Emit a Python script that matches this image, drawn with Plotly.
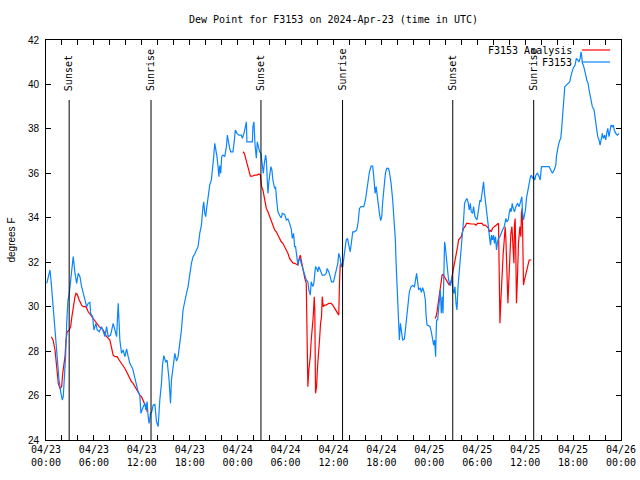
import plotly.graph_objects as go
import pandas as pd

START = pd.Timestamp("2024-04-23 00:00")
END = pd.Timestamp("2024-04-26 00:00")

# ---- F3153 observations (hours after 2024-04-23 00:00 UTC, degrees F) ----
blue_hours = [
    0.1, 0.5, 0.66, 0.88, 1.0, 1.41, 1.63, 1.84, 2.04, 2.16, 2.25, 2.34, 2.46, 2.59, 2.75, 2.88,
    3.09, 3.29, 3.41, 3.63, 3.84, 4.04, 4.25, 4.46, 4.66, 4.88, 5.09, 5.29, 5.5, 5.59, 5.84, 6.0,
    6.25, 6.41, 6.66, 6.96, 7.16, 7.38, 7.59, 7.79, 8.09, 8.41, 8.63, 8.84, 9.04, 9.13, 9.25, 9.46,
    9.66, 9.88, 10.09, 10.29, 10.5, 10.84, 11.0, 11.34, 11.54, 11.75, 11.88, 12.09, 12.38, 12.5,
    12.66, 12.79, 12.91, 13.09, 13.25, 13.41, 13.63, 13.84, 14.04, 14.25, 14.46, 14.59, 14.75, 15.0,
    15.16, 15.41, 15.59, 15.71, 15.91, 16.13, 16.34, 16.54, 16.75, 16.96, 17.16, 17.38, 17.59, 17.79,
    18.0, 18.21, 18.41, 18.63, 18.84, 19.04, 19.25, 19.46, 19.66, 19.75, 19.88, 20.0, 20.09, 20.29,
    20.5, 20.71, 20.84, 21.0, 21.13, 21.25, 21.41, 21.54, 21.66, 21.75, 21.88, 22.0, 22.16, 22.38,
    22.59, 22.71, 22.84, 23.0, 23.13, 23.41, 23.59, 23.71, 23.91, 24.16, 24.46, 24.59, 24.79, 24.96,
    25.09, 25.16, 25.5, 25.84, 25.91, 26.04, 26.16, 26.34, 26.46, 26.63, 26.75, 26.91, 27.09, 27.21,
    27.34, 27.5, 27.59, 27.66, 27.79, 27.91, 28.04, 28.16, 28.29, 28.41, 28.63, 28.75, 28.84, 29.04,
    29.25, 29.46, 29.59, 29.88, 30.09, 30.29, 30.5, 30.71, 30.84, 31.0, 31.13, 31.25, 31.41, 31.54,
    31.66, 31.84, 31.96, 32.16, 32.38, 32.59, 32.79, 32.91, 33.09, 33.21, 33.41, 33.54, 33.75, 33.91,
    34.04, 34.16, 34.34, 34.59, 34.88, 35.09, 35.21, 35.41, 35.59, 35.75, 36.0, 36.13, 36.25, 36.41,
    36.54, 36.66, 36.84, 36.96, 37.16, 37.29, 37.41, 37.59, 37.75, 37.91, 38.09, 38.25, 38.41, 38.63,
    38.91, 39.09, 39.25, 39.46, 39.79, 40.0, 40.16, 40.34, 40.5, 40.71, 40.91, 41.04, 41.21, 41.34,
    41.46, 41.63, 41.75, 41.91, 42.04, 42.16, 42.34, 42.5, 42.66, 42.88, 43.0, 43.21, 43.41, 43.63,
    43.75, 43.84, 43.96, 44.13, 44.25, 44.38, 44.54, 44.66, 44.88, 45.0, 45.16, 45.34, 45.5, 45.71,
    45.91, 46.13, 46.34, 46.41, 46.66, 46.84, 47.0, 47.16, 47.34, 47.5, 47.59, 47.71, 47.91, 48.09,
    48.25, 48.41, 48.54, 48.66, 48.79, 48.84, 48.91, 49.04, 49.25, 49.38, 49.5, 49.63, 49.71, 49.79,
    49.91, 50.0, 50.13, 50.25, 50.41, 50.54, 50.66, 50.84, 50.96, 51.09, 51.21, 51.34, 51.46, 51.59,
    51.75, 51.88, 52.04, 52.16, 52.29, 52.41, 52.59, 52.71, 52.84, 53.0, 53.13, 53.25, 53.41, 53.54,
    53.71, 53.84, 53.96, 54.09, 54.21, 54.34, 54.46, 54.59, 54.71, 54.79, 54.91, 55.04, 55.16, 55.29,
    55.41, 55.54, 55.66, 55.79, 55.91, 56.04, 56.16, 56.29, 56.41, 56.54, 56.66, 56.84, 56.96, 57.16,
    57.38, 57.59, 57.71, 57.88, 58.0, 58.13, 58.25, 58.38, 58.5, 58.66, 58.84, 59.04, 59.25, 59.46,
    59.59, 59.66, 59.79, 59.91, 60.04, 60.16, 60.29, 60.41, 60.54, 60.66, 60.79, 60.91, 61.04, 61.21,
    61.34, 61.54, 61.75, 61.88, 62.04, 62.38, 62.75, 63.0, 63.21, 63.41, 63.63, 63.84, 63.91, 64.04,
    64.16, 64.34, 64.46, 64.59, 64.71, 64.84, 64.96, 65.16, 65.38, 65.59, 65.71, 65.84, 66.0, 66.25,
    66.41, 66.59, 66.75, 66.88, 67.0, 67.09, 67.16, 67.29, 67.46, 67.59, 67.71, 67.88, 68.0, 68.13,
    68.25, 68.41, 68.63, 68.75, 68.91, 69.09, 69.25, 69.38, 69.5, 69.59, 69.66, 69.79, 69.96, 70.09,
    70.21, 70.34, 70.5, 70.63, 70.75, 70.91, 71.04, 71.16, 71.34, 71.54, 71.75,
]
blue_vals = [
    31.05, 31.65, 31.05, 30.0, 29.77, 27.6, 26.7, 26.17, 25.8, 25.95, 26.4, 26.85, 27.8, 29.25, 30.3, 30.5,
    31.2, 31.8, 32.25, 31.5, 31.05, 31.5, 31.35, 30.9, 30.6, 30.3, 30.0, 30.15, 30.2, 29.7, 29.55, 28.95,
    29.25, 28.95, 28.87, 29.1, 28.87, 28.65, 29.1, 28.65, 28.72, 29.25, 28.95, 28.65, 30.15, 29.1, 28.5, 27.9,
    28.05, 27.75, 28.1, 27.75, 27.45, 27.22, 26.98, 26.55, 26.17, 26.02, 25.2, 25.42, 25.65, 25.35,
    25.73, 25.05, 24.75, 25.2, 25.27, 25.57, 25.6, 24.82, 24.6, 25.8, 26.55, 27.4, 27.8, 27.5,
    27.6, 26.7, 25.65, 26.7, 27.4, 27.9, 27.55, 27.75, 28.35, 28.95, 29.85, 30.3, 30.6, 30.9,
    31.5, 31.95, 32.25, 32.37, 32.55, 32.7, 33.3, 33.67, 34.5, 34.72, 34.2, 34.05, 34.35, 34.95,
    35.47, 35.7, 36.07, 36.75, 37.35, 37.12, 36.75, 36.3, 35.85, 36.35, 36.0, 36.75, 36.82, 36.75,
    37.2, 37.72, 37.42, 37.12, 36.97, 36.97, 37.5, 37.95, 37.8, 37.72, 37.72, 37.57, 37.8, 38.1,
    38.32, 37.42, 37.42, 37.42, 38.1, 38.32, 37.35, 36.68, 37.42, 37.05, 36.97, 36.9, 36.37, 36.0,
    36.45, 36.82, 36.6, 35.85, 35.1, 35.62, 35.9, 36.3, 36.15, 35.7, 35.32, 35.4, 34.95, 34.27,
    34.1, 34.0, 34.2, 34.15, 33.9, 33.95, 33.75, 33.5, 33.07, 33.3, 32.7, 32.7, 32.25, 31.87,
    32.1, 32.15, 31.95, 31.72, 31.42, 31.2, 31.12, 30.75, 30.52, 31.12, 30.9, 31.05, 31.8, 31.72,
    31.57, 31.8, 31.65, 31.42, 31.42, 31.5, 31.72, 31.57, 31.35, 31.12, 31.12, 31.35, 31.42, 31.72,
    31.95, 32.4, 32.17, 31.8, 31.8, 32.17, 32.47, 33.0, 33.07, 32.85, 32.47, 32.9, 33.37, 33.37,
    33.45, 33.82, 34.42, 34.5, 34.5, 34.8, 35.17, 35.7, 36.07, 36.32, 36.32, 35.85, 35.1, 35.4,
    35.0, 34.35, 34.2, 33.87, 34.05, 34.72, 35.4, 36.0, 36.22, 36.22, 36.07, 35.55, 34.8, 33.75,
    33.0, 31.95, 30.9, 29.32, 28.5, 29.25, 28.75, 28.5, 28.55, 28.95, 29.55, 30.15, 30.67, 30.9,
    30.95, 30.9, 31.27, 31.5, 30.75, 30.85, 30.65, 30.85, 30.65, 30.3, 29.62, 29.17, 29.15, 29.1,
    28.87, 28.5, 28.27, 28.5, 27.75, 28.65, 29.4, 29.4, 30.15, 30.75, 29.7, 30.45, 29.7, 31.95,
    32.92, 32.7, 32.1, 31.65, 31.2, 31.05, 30.95, 31.35, 30.75, 30.6, 30.9, 30.15, 29.85, 30.9,
    31.5, 32.1, 32.85, 33.37, 33.9, 34.65, 34.8, 34.87, 34.72, 34.35, 34.65, 34.27, 34.2, 34.5,
    34.05, 33.97, 33.9, 34.2, 34.65, 34.8, 34.72, 35.1, 35.25, 35.62, 35.1, 34.65, 34.2, 33.75,
    33.37, 33.0, 32.77, 33.22, 33.0, 33.22, 32.85, 33.15, 32.55, 32.92, 33.07, 33.15, 33.3, 33.45,
    33.6, 33.97, 33.82, 33.9, 34.2, 34.42, 34.27, 34.65, 34.42, 34.27, 34.5, 34.65, 34.5, 34.8,
    34.95, 34.27, 33.9, 34.12, 34.35, 34.87, 35.17, 35.32, 35.62, 35.85, 35.92, 35.77, 35.85, 35.7,
    35.92, 36.0, 35.85, 35.7, 36.3, 36.3, 36.3, 36.3, 36.15, 36.0, 36.15, 36.37, 36.75, 37.05,
    37.27, 37.5, 37.57, 38.1, 38.7, 39.3, 39.9, 39.97, 40.05, 40.12, 40.35, 40.57, 40.72, 40.87,
    41.17, 41.1, 41.02, 41.17, 41.47, 41.25, 40.95, 40.87, 40.5, 40.42, 40.2, 40.05, 39.75, 39.52,
    39.37, 39.0, 38.85, 38.4, 38.1, 37.65, 37.5, 37.27, 37.42, 37.65, 37.8, 37.57, 37.72, 37.5,
    37.8, 38.02, 37.65, 37.87, 38.17, 38.1, 38.17, 37.95, 37.8, 37.72, 37.8,
]

# ---- F3153 Analysis (None = no analysis available) ----
red_hours = [
    0.66, 0.88, 1.13, 1.25, 1.41, 1.54, 1.75, 1.96, 2.09, 2.25, 2.38, 2.5, 2.66, 2.91, 3.09, 3.21,
    3.41, 3.63, 3.75, 3.91, 4.16, 4.46, 4.66, 5.0, 5.29, 5.59, 5.84, 6.0, 6.25, 6.41, 6.66, 6.96,
    7.16, 7.38, 7.59, 8.0, 8.21, 8.41, 8.63, 8.91, 9.16, 9.46, 9.66, 9.88, 10.09, 10.29, 10.5, 10.71,
    10.91, 11.13, 11.34, 11.54, 11.75, 11.96, 12.16, 12.38, 12.59, 12.66,
    18.0,
    24.66, 24.84, 25.0, 25.16, 25.29, 25.41, 25.59, 25.84, 26.13, 26.41, 26.66, 26.84, 26.91, 27.0,
    27.16, 27.29, 27.41, 27.59, 27.79, 28.0, 28.21, 28.41, 28.63, 28.84, 29.04, 29.25, 29.46, 29.66,
    29.88, 30.09, 30.29, 30.5, 30.71, 30.91, 31.13, 31.34, 31.54, 31.66, 31.84, 31.96, 32.09, 32.25,
    32.41, 32.59, 32.66, 32.79, 32.91, 33.09, 33.21, 33.34, 33.46, 33.59, 33.66, 33.75, 33.88, 34.0,
    34.13, 34.25, 34.38, 34.5, 34.59, 34.71, 34.88, 35.09, 35.41, 35.71, 35.91, 36.13, 36.34, 36.54,
    36.66, 36.75, 36.84, 36.96, 37.09,
    42.0,
    48.71, 48.84, 48.96, 49.09, 49.21, 49.34, 49.46, 49.59, 49.71, 49.88, 50.09, 50.29, 50.5, 50.71,
    50.84, 50.91, 51.04, 51.16, 51.29, 51.41, 51.54, 51.66, 51.84, 52.0, 52.16, 52.29, 52.5, 52.66,
    52.91, 53.21, 53.63, 53.84, 54.04, 54.34, 54.59, 54.75, 55.0, 55.21, 55.41, 55.5, 55.63, 55.75,
    55.91, 56.13, 56.34, 56.54, 56.66, 56.75, 56.84, 56.96, 57.09, 57.25, 57.38, 57.5, 57.59, 57.71,
    57.84, 57.96, 58.09, 58.21, 58.34, 58.46, 58.59, 58.66, 58.75, 58.84, 58.91, 59.04, 59.16, 59.34,
    59.46, 59.54, 59.63, 59.71, 59.79, 59.91, 60.09, 60.29, 60.5, 60.79,
]
red_vals = [
    28.65, 28.5, 28.05, 27.6, 26.92, 26.55, 26.32, 26.4, 27.0, 27.45, 27.75, 28.5, 28.87, 28.95, 29.1, 29.47,
    30.07, 30.45, 30.6, 30.55, 30.3, 30.07, 30.0, 30.0, 29.77, 29.62, 29.55, 29.47, 29.32, 29.25, 29.1, 29.02,
    28.95, 28.8, 28.65, 28.5, 28.2, 27.82, 27.75, 27.75, 27.6, 27.45, 27.3, 27.22, 27.07, 26.92, 26.7, 26.62,
    26.55, 26.4, 26.25, 26.1, 26.02, 25.95, 25.8, 25.57, 25.42, 25.27,
    None,
    36.97, 36.9, 36.67, 36.45, 36.22, 36.07, 35.87, 35.87, 35.92, 35.92, 35.97, 35.92, 35.62, 35.4,
    35.25, 35.02, 34.72, 34.42, 34.27, 34.05, 33.9, 33.67, 33.45, 33.37, 33.22, 33.12, 32.92, 32.85,
    32.7, 32.55, 32.4, 32.17, 32.05, 31.97, 31.95, 31.9, 31.87, 32.1, 32.32, 32.1, 31.8, 31.5,
    31.27, 31.05, 28.8, 26.4, 27.15, 27.75, 28.5, 29.0, 29.55, 30.45, 29.85, 26.1, 26.4, 27.3,
    28.2, 28.5, 29.25, 29.55, 30.45, 30.0, 30.07, 30.07, 30.15, 30.15, 30.07, 29.92, 29.77, 29.7,
    29.62, 31.05, 31.87, 31.87, 31.95,
    None,
    29.47, 29.55, 29.77, 30.15, 30.6, 30.75, 31.05, 31.42, 31.45, 31.35, 31.27, 31.12, 30.97, 31.12,
    31.35, 31.5, 31.72, 31.95, 32.17, 32.47, 32.7, 33.0, 33.07, 33.15, 33.37, 33.52, 33.62, 33.75,
    33.75, 33.72, 33.72, 33.67, 33.75, 33.75, 33.75, 33.67, 33.67, 33.6, 33.52, 33.37, 33.45, 33.37,
    33.52, 33.6, 33.67, 33.75, 33.75, 31.5, 29.25, 30.3, 31.5, 32.4, 33.0, 33.6, 33.0, 31.5,
    30.15, 31.2, 32.4, 33.3, 33.6, 33.0, 31.95, 33.67, 33.97, 32.1, 30.15, 31.35, 32.85, 33.6,
    33.15, 34.2, 34.42, 32.85, 30.97, 31.2, 31.5, 31.8, 32.1, 32.1,
]

# ---- sun events ----
sun_labels = ["Sunset", "Sunrise", "Sunset", "Sunrise", "Sunset", "Sunrise"]
sun_times = ["2024-04-23 02:54", "2024-04-23 13:09", "2024-04-24 02:55",
             "2024-04-24 13:08", "2024-04-25 02:56", "2024-04-25 13:04"]

series_names = ["F3153 Analysis", "F3153"]
series_colors = ["#ff0000", "#0a84ff"]

title_text = "Dew Point for F3153 on 2024-Apr-23 (time in UTC)"
y_title = "degrees F"

MONO = "DejaVu Sans Mono, Liberation Mono, monospace"
SANS = "Liberation Sans, Arial, sans-serif"


def to_time(hours):
    return [START + pd.Timedelta(hours=h) for h in hours]


fig = go.Figure()
fig.add_trace(go.Scatter(x=to_time(red_hours), y=red_vals, mode="lines",
                         line=dict(color=series_colors[0], width=1.2),
                         connectgaps=False, showlegend=False, name=series_names[0]))
fig.add_trace(go.Scatter(x=to_time(blue_hours), y=blue_vals, mode="lines",
                         line=dict(color=series_colors[1], width=1.2),
                         showlegend=False, name=series_names[1]))

# sunrise / sunset markers: line below, rotated label above (bottom aligned)
for lab, t in zip(sun_labels, sun_times):
    fig.add_shape(type="line", xref="x", yref="paper", x0=t, x1=t, y0=0, y1=0.85,
                  line=dict(color="black", width=1))
    fig.add_annotation(x=t, xref="x", y=0.8675, yref="paper", text=lab, textangle=-90,
                       showarrow=False, xanchor="center", yanchor="bottom",
                       font=dict(family=MONO, size=10, color="black"))

# custom gnuplot-style key (text right-aligned, sample line to the right)
key_rows_y = [0.975, 0.945]
for name, col, ky in zip(series_names, series_colors, key_rows_y):
    fig.add_annotation(x=0.919, xref="paper", y=ky, yref="paper", text=name,
                       showarrow=False, xanchor="right", yanchor="middle",
                       font=dict(family=MONO, size=10, color="black"))
    fig.add_shape(type="line", xref="paper", yref="paper", x0=0.932, x1=0.981,
                  y0=ky, y1=ky, line=dict(color=col, width=1.2))

tick_times = pd.date_range(START, END, freq="2h")
tick_text = [f"{t:%m/%d}<br>{t:%H:%M}" if t.hour % 6 == 0 else "" for t in tick_times]

fig.update_layout(
    width=640, height=480,
    margin=dict(l=46, r=19, t=40, b=40, autoexpand=False),
    paper_bgcolor="white", plot_bgcolor="white",
    title=dict(text=title_text, x=0.5, xref="paper", y=1 - 19 / 480, yref="container",
               xanchor="center", yanchor="middle", automargin=False,
               font=dict(family=MONO, size=10, color="black")),
    xaxis=dict(type="date", range=[START, END], tickmode="array",
               tickvals=list(tick_times), ticktext=tick_text,
               ticks="inside", ticklen=5, tickcolor="black", tickwidth=1,
               showline=True, linecolor="black", linewidth=1, mirror="ticks",
               showgrid=False, zeroline=False, automargin=False,
               tickfont=dict(family=MONO, size=10, color="black")),
    yaxis=dict(range=[24, 42], tickmode="linear", tick0=24, dtick=2,
               ticks="inside", ticklen=5, tickcolor="black", tickwidth=1,
               showline=True, linecolor="black", linewidth=1, mirror="ticks",
               showgrid=False, zeroline=False, ticklabelstandoff=4, automargin=False,
               tickfont=dict(family=SANS, size=10, color="black"),
               title=dict(text=y_title, standoff=10,
                          font=dict(family=SANS, size=10, color="black"))),
)

# remove the page's default body margin so the 640x480 figure fills the window
fig.write_html("out.html", config={"displayModeBar": False},
               post_script="document.body.style.margin='0';document.body.style.overflow='hidden';")
